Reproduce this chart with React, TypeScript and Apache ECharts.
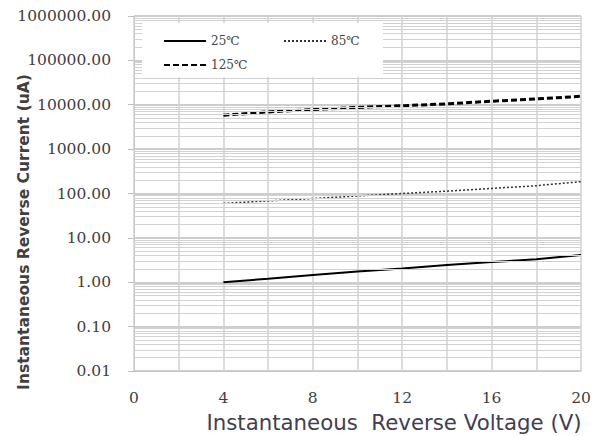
import React, { useEffect, useRef } from "react";
import * as echarts from "echarts";

const voltage = [4, 6, 8, 10, 12, 14, 16, 18, 20];
const current25 = [1.0, 1.2, 1.45, 1.75, 2.05, 2.45, 2.85, 3.3, 4.1];
const current85 = [60, 68, 77, 88, 100, 113, 130, 150, 185];
const current125 = [5800, 6900, 7800, 8700, 9500, 10500, 12000, 13500, 15500];
const seriesNames = ["25℃", "85℃", "125℃"];
const yTitle = "Instantaneous Reverse Current (uA)";
const xTitle = "Instantaneous  Reverse Voltage (V)";

const minorGridValues: number[] = [];
for (let d = -2; d <= 5; d++) {
  for (let k = 2; k <= 9; k++) minorGridValues.push(k * Math.pow(10, d));
}

const pairs = (ys: number[]) => voltage.map((v, i) => [v, ys[i]]);

export default function App() {
  const ref = useRef<HTMLDivElement>(null);
  useEffect(() => {
    if (!ref.current) return;
    const chart = echarts.init(ref.current, null, { renderer: "svg" });
    const labelFont = "DejaVu Serif";
    const legendCommon = {
      itemWidth: 42,
      itemHeight: 10,
      itemGap: 8,
      itemStyle: { opacity: 0 },
      textStyle: { fontSize: 12, fontFamily: labelFont, color: "#444" },
      z: 12,
    };
    chart.setOption({
      animation: false,
      backgroundColor: "#ffffff",
      grid: { left: 134, right: 17, top: 16, bottom: 65 },
      legend: [
        { ...legendCommon, data: [seriesNames[0]], left: 158, top: 30 },
        { ...legendCommon, data: [seriesNames[1]], left: 278, top: 30 },
        { ...legendCommon, data: [seriesNames[2]], left: 158, top: 54 },
      ],
      graphic: [
        {
          type: "rect",
          left: 142,
          top: 23,
          shape: { width: 241, height: 54 },
          style: { fill: "#ffffff" },
          z: 10,
        },
        {
          type: "text",
          x: 24,
          y: 232,
          rotation: Math.PI / 2,
          style: {
            text: yTitle,
            fontSize: 15.5,
            fontWeight: "bold",
            fontFamily: "DejaVu Sans",
            fill: "#404040",
            align: "center",
            verticalAlign: "middle",
          },
          z: 10,
        },
        {
          type: "text",
          x: 394,
          y: 422,
          style: {
            text: xTitle,
            fontSize: 21.3,
            fontFamily: "DejaVu Sans",
            fill: "#404050",
            align: "center",
            verticalAlign: "middle",
          },
          z: 10,
        },
      ],
      xAxis: {
        type: "value",
        min: 0,
        max: 20,
        interval: 2,
        axisLine: { show: true, lineStyle: { color: "#c8c8c8" } },
        axisTick: { show: false },
        axisLabel: {
          margin: 19,
          fontSize: 15.5,
          fontFamily: labelFont,
          color: "#404040",
          formatter: (v: number) => (v % 4 === 0 ? String(v) : ""),
        },
        splitLine: { show: true, lineStyle: { color: "#d0d0d0", width: 1.5 } },
      },
      yAxis: {
        type: "log",
        logBase: 10,
        min: 0.01,
        max: 1000000,
        interval: 1,
        axisLine: { show: true, lineStyle: { color: "#c8c8c8" } },
        axisTick: { show: true, length: 6, lineStyle: { color: "#c0c0c0" } },
        axisLabel: {
          margin: 23,
          fontSize: 15.5,
          fontFamily: labelFont,
          color: "#404040",
          formatter: (v: number) => Number(v).toFixed(2),
        },
        splitLine: { show: true, lineStyle: { color: "#bdbdbd", width: 1.5 } },
      },
      series: [
        {
          name: "minor-grid",
          type: "line",
          data: [],
          silent: true,
          z: 1,
          markLine: {
            silent: true,
            symbol: "none",
            label: { show: false },
            lineStyle: { color: "#d2d2d2", width: 1.2, type: "solid" },
            data: minorGridValues.map((v) => ({ yAxis: v })),
          },
        },
        {
          name: seriesNames[0],
          type: "line",
          data: pairs(current25),
          symbol: "none",
          z: 3,
          lineStyle: { color: "#000000", width: 2, type: "solid" },
          itemStyle: { color: "#000000" },
        },
        {
          name: seriesNames[1],
          type: "line",
          data: pairs(current85),
          symbol: "none",
          z: 3,
          lineStyle: { color: "#333333", width: 1.5, type: [2, 2] },
          itemStyle: { color: "#333333" },
        },
        {
          name: seriesNames[2],
          type: "line",
          data: pairs(current125),
          symbol: "none",
          z: 3,
          lineStyle: { color: "#000000", width: 3, type: [6, 3] },
          itemStyle: { color: "#000000" },
        },
      ],
    });
    return () => chart.dispose();
  }, []);
  return <div ref={ref} style={{ width: 598, height: 436, position: "absolute", left: 0, top: 0 }} />;
}
